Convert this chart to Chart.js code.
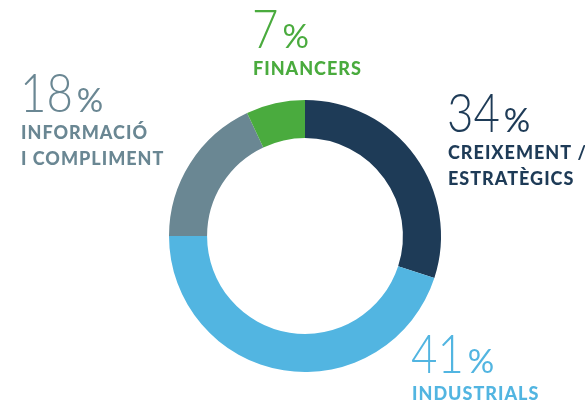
<!DOCTYPE html>
<html>
<head>
<meta charset="utf-8">
<script src="https://cdn.jsdelivr.net/npm/chart.js@4/dist/chart.umd.min.js"></script>
<style>
  html, body { margin: 0; padding: 0; background: #ffffff; }
  #wrap { width: 585px; height: 405px; position: relative; }
</style>
</head>
<body>
<div id="wrap"><canvas id="c" width="585" height="405"></canvas></div>
<script>
// Data
const categories = ["CREIXEMENT / ESTRATÈGICS", "INDUSTRIALS", "INFORMACIÓ I COMPLIMENT", "FINANCERS"];
const labelLines = [["CREIXEMENT /", "ESTRATÈGICS"], ["INDUSTRIALS"], ["INFORMACIÓ", "I COMPLIMENT"], ["FINANCERS"]];
const values = [30, 45, 18, 7];
const percentText = ["34", "41", "18", "7"];
const colors = ["#1e3b57", "#52b5e1", "#6a8793", "#4aab3e"];

// Label anchors (layout only)
const anchors = [
  { x: 447, y: 132 },
  { x: 411, y: 373 },
  { x: 20,  y: 112 },
  { x: 252, y: 48 }
];

const labelPlugin = {
  id: 'sideLabels',
  afterDraw(chart) {
    const ctx = chart.ctx;
    ctx.save();
    ctx.textBaseline = 'alphabetic';
    ctx.textAlign = 'left';
    categories.forEach((cat, i) => {
      const a = anchors[i];
      ctx.fillStyle = colors[i];
      ctx.letterSpacing = '0px';
      ctx.font = '300 53px Lato, "Open Sans", sans-serif';
      const w = ctx.measureText(percentText[i]).width * 0.86;
      ctx.save();
      ctx.translate(a.x, a.y);
      ctx.scale(0.86, 1);
      ctx.fillText(percentText[i], 0, 0);
      ctx.restore();
      ctx.font = '400 33px Lato, "Open Sans", sans-serif';
      ctx.fillText('%', a.x + w + 4, a.y);
      ctx.font = '900 18px Lato, "Open Sans", sans-serif';
      ctx.letterSpacing = '1px';
      labelLines[i].forEach((ln, j) => {
        ctx.fillText(ln, a.x + 1, a.y + 27 + j * 26);
      });
    });
    ctx.restore();
  }
};

new Chart(document.getElementById('c'), {
  type: 'doughnut',
  data: {
    labels: categories,
    datasets: [{
      data: values,
      backgroundColor: colors,
      borderWidth: 0,
      hoverOffset: 0
    }]
  },
  options: {
    responsive: false,
    animation: false,
    cutout: '72%',
    layout: { padding: { left: 169, right: 144, top: 100, bottom: 33 } },
    plugins: {
      legend: { display: false },
      tooltip: { enabled: false }
    }
  },
  plugins: [labelPlugin]
});
</script>
</body>
</html>
